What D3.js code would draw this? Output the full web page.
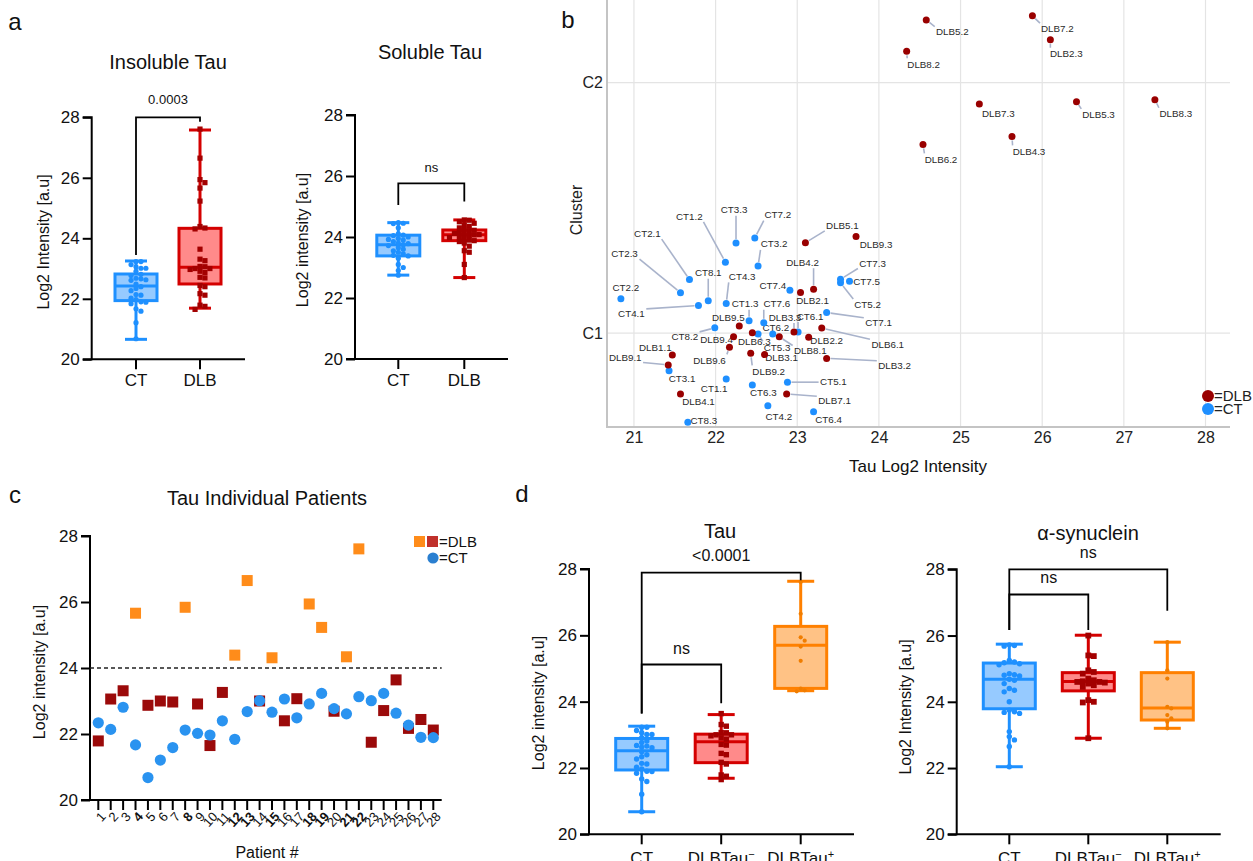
<!DOCTYPE html>
<html>
<head>
<meta charset="utf-8">
<script src="https://cdn.jsdelivr.net/npm/d3@7"></script>
<style>
  body { margin: 0; background: #fff; }
  svg { font-family: Arial, "Liberation Sans", Helvetica, sans-serif; }
</style>
</head>
<body>
<script>
// ---- data ----
// panel c: per patient insoluble tau (also used for a / d)
const patients = ["1","2","3","4","5","6","7","8","9","10","11","12","13","14","15","16","17","18","19","20","21","22","23","24","25","26","27","28"];
const patientCT  = [22.34,22.14,22.81,21.67,20.68,21.21,21.59,22.12,22.02,21.97,22.40,21.84,22.68,23.01,22.66,23.06,22.49,22.91,23.23,22.77,22.61,23.13,23.01,23.23,22.63,22.27,21.90,21.89];
const patientDLB = [21.79,23.06,23.31,25.66,22.87,23.00,22.97,25.84,22.91,21.65,23.26,24.39,26.65,23.00,24.31,22.40,23.07,25.94,25.23,22.69,24.34,27.61,21.75,22.71,23.64,22.17,22.44,22.12];
const tauCutoff = 24;

// panel a
const groupsA = ["CT", "DLB"];
const insolBoxCT  = [20.66, 21.94, 22.42, 22.82, 23.25];   // min, q1, median, q3, max
const insolBoxDLB = [21.69, 22.49, 23.04, 24.33, 27.58];
const solCT  = [24.47,24.45,24.44,24.30,24.10,24.06,24.05,24.00,23.95,23.92,23.90,23.85,23.80,23.78,23.75,23.72,23.65,23.60,23.55,23.50,23.45,23.40,23.38,23.30,23.10,23.00,22.90,22.75];
const solDLB = [24.56,24.55,24.50,24.45,24.40,24.35,24.30,24.25,24.22,24.20,24.15,24.12,24.10,24.08,24.07,24.05,24.00,23.98,23.95,23.90,23.88,23.85,23.80,23.70,23.55,23.50,23.10,22.67];
const solBoxCT  = [22.75, 23.38, 23.75, 24.06, 24.47];
const solBoxDLB = [22.67, 23.88, 24.07, 24.23, 24.56];

// panel d
const groupsD = ["CT", "DLBTau-", "DLBTau+"];
const tauBoxCT    = [20.68, 21.94, 22.52, 22.89, 23.26];
const tauBoxMinus = [21.69, 22.16, 22.79, 23.02, 23.61];
const tauBoxPlus  = [24.33, 24.40, 25.70, 26.27, 27.63];
const asynCT    = [25.72,25.70,25.68,25.25,25.20,25.18,25.15,25.12,24.85,24.82,24.80,24.78,24.68,24.65,24.55,24.40,24.35,24.30,24.00,23.75,23.70,23.68,23.65,23.10,22.95,22.85,22.65,22.04];
const asynMinus = [26.00,25.40,25.38,24.95,24.90,24.85,24.70,24.65,24.62,24.60,24.60,24.58,24.55,24.50,24.45,24.05,24.00,23.98,22.90];
const asynPlus  = [25.80,24.95,24.70,23.85,23.80,23.60,23.50,23.40,23.20];
const asynBoxCT    = [22.04, 23.79, 24.68, 25.17, 25.74];
const asynBoxMinus = [22.90, 24.33, 24.61, 24.88, 26.01];
const asynBoxPlus  = [23.20, 23.45, 23.81, 24.88, 25.80];

// panel b: tau intensity vs cluster (jittered)
const ctNames   = ["CT1.1","CT1.2","CT1.3","CT2.1","CT2.2","CT2.3","CT3.1","CT3.2","CT3.3","CT4.1","CT4.2","CT4.3","CT5.1","CT5.2","CT5.3","CT6.1","CT6.2","CT6.3","CT6.4","CT7.1","CT7.2","CT7.3","CT7.4","CT7.5","CT7.6","CT8.1","CT8.2","CT8.3"];
const ctTau     = [22.13,22.12,22.41,21.68,20.84,21.57,21.43,22.52,22.25,21.79,22.64,22.13,22.88,23.53,22.52,23.01,22.70,22.45,23.20,23.36,22.48,23.53,22.91,23.64,22.59,21.91,21.99,21.66];
const ctCluster = [0.817,1.283,1.049,1.214,1.137,1.161,0.850,1.268,1.360,1.110,0.710,1.118,0.804,1.201,0.996,1.004,0.996,0.793,0.686,1.082,1.380,1.215,1.171,1.207,1.041,1.129,1.021,0.644];
const dlbNames   = ["DLB1.1","DLB2.1","DLB2.2","DLB2.3","DLB3.1","DLB3.2","DLB3.3","DLB4.1","DLB4.2","DLB4.3","DLB5.1","DLB5.2","DLB5.3","DLB6.1","DLB6.2","DLB6.3","DLB7.1","DLB7.2","DLB7.3","DLB8.1","DLB8.2","DLB8.3","DLB9.1","DLB9.2","DLB9.3","DLB9.4","DLB9.5","DLB9.6"];
const dlbTau     = [21.47,23.04,23.14,26.10,22.60,23.36,22.96,21.57,23.20,25.63,23.10,24.58,26.42,23.30,24.54,22.45,22.87,25.88,25.23,22.78,24.34,27.38,21.42,22.43,23.72,22.22,22.29,22.17];
const dlbCluster = [0.912,1.162,0.983,2.171,0.914,0.899,1.004,0.757,1.175,1.785,1.361,2.250,1.924,1.020,1.753,1.001,0.757,2.267,1.915,0.985,2.125,1.932,0.873,0.919,1.386,0.985,1.028,0.943];
const bTicks = [21,22,23,24,25,26,27,28];
const bClusters = [["C1",1],["C2",2]];

// label placement (repel-style offsets in px)
const labelOff = {
  "CT2.2":[5,-11],"CT2.3":[-56,-39],"CT2.1":[-42,-46],"CT1.2":[-36,-46],"CT3.3":[-2,-33],"CT7.2":[23,-23],
  "CT3.2":[16,-22],"CT8.1":[0,-28],"CT4.1":[-67,8],"CT4.3":[16,-27],"CT1.3":[-4,-17],"CT7.6":[13,-19],
  "CT8.2":[-30,9],"CT5.3":[19,13],"CT6.2":[3,-7],"CT6.1":[12,-16],"CT7.4":[-17,-5],"CT7.3":[32,-16],
  "CT5.2":[27,22],"CT7.5":[17,0],"CT7.1":[52,10],"CT3.1":[13,8],"CT1.1":[-12,10],"CT6.3":[11,8],
  "CT5.1":[46,-1],"CT4.2":[11,11],"CT6.4":[15,8],"CT8.3":[16,-2],
  "DLB5.1":[37,-17],"DLB9.3":[20,8],"DLB4.2":[-11,-27],"DLB2.1":[12,8],"DLB9.5":[-11,-9],"DLB9.4":[-17,3],
  "DLB6.3":[2,9],"DLB3.3":[-9,-15],"DLB8.1":[31,14],"DLB2.2":[18,3],"DLB6.1":[66,16],"DLB3.2":[68,7],
  "DLB9.6":[-20,13],"DLB9.2":[18,18],"DLB3.1":[17,3],"DLB1.1":[-17,-8],"DLB9.1":[-43,-7],"DLB4.1":[18,8],
  "DLB7.1":[48,7],"DLB5.2":[26,12],"DLB7.2":[25,13],"DLB8.2":[17,13],"DLB2.3":[16,14],"DLB7.3":[19,10],
  "DLB5.3":[22,13],"DLB8.3":[21,14],"DLB4.3":[17,15],"DLB6.2":[18,15]
};

// ---- drawing ----
const W = 1253, H = 861;
const svg = d3.select("body").append("svg").attr("width", W).attr("height", H);

const BLUE = "#1e90ff", BLUE_FILL = "#96caff";
const RED = "#d40000", RED_FILL = "#ff8a8a", RED_PT = "#a30000";
const ORANGE = "#ff8000", ORANGE_FILL = "#ffc285", ORANGE_PT = "#f07d00";

function txt(g, x, y, s, size, anchor = "middle") {
  return g.append("text").attr("x", x).attr("y", y).attr("font-size", size)
    .attr("text-anchor", anchor).attr("dy", "0.35em").attr("fill", "#111").text(s);
}

// panel letters
txt(svg, 15, 22, "a", 24);
txt(svg, 568, 20, "b", 24);
txt(svg, 15, 495, "c", 24);
txt(svg, 522, 494, "d", 24);

// simple deterministic beeswarm
function swarm(vals, y, step, maxOff) {
  const pts = vals.map(v => ({ v, py: y(v) })).sort((a, b) => a.py - b.py);
  const done = [];
  pts.forEach(p => {
    let off = 0;
    for (let k = 0; k < 40; k++) {
      const c = k === 0 ? 0 : (k % 2 ? 1 : -1) * Math.ceil(k / 2) * step;
      if (Math.abs(c) > maxOff) break;
      if (!done.some(q => Math.abs(q.off - c) < step * 0.9 && Math.abs(q.py - p.py) < step * 0.9)) { off = c; break; }
    }
    p.off = off;
    done.push(p);
  });
  return pts;
}

function boxPanel(p) {
  const g = svg.append("g");
  const y = d3.scaleLinear().domain([20, 28]).range([p.y20, p.y28]);
  const x = d3.scalePoint().domain(p.cats).range([p.cx0, p.cx1]);

  txt(g, p.titleX, p.titleY, p.title, 20);

  const ya = g.append("g").attr("transform", `translate(${p.ax},0)`)
    .call(d3.axisLeft(y).tickValues([20, 22, 24, 26, 28]).tickSize(9).tickPadding(3));
  ya.select(".domain").attr("stroke-width", 2).attr("d", `M-9,${y(28)}H0V${y(20)}H-9`);
  ya.selectAll(".tick line").attr("stroke-width", 2);
  ya.selectAll(".tick text").attr("font-size", 17).attr("fill", "#111").attr("font-family", null);

  g.append("line").attr("x1", p.ax).attr("x2", p.axEnd).attr("y1", y(20)).attr("y2", y(20))
    .attr("stroke", "#000").attr("stroke-width", 2);
  g.selectAll(".xt").data(p.cats).join("line")
    .attr("x1", d => x(d)).attr("x2", d => x(d)).attr("y1", y(20)).attr("y2", y(20) + 10)
    .attr("stroke", "#000").attr("stroke-width", 2);
  g.selectAll(".xl").data(p.cats).join("text")
    .attr("x", d => x(d)).attr("y", y(20) + p.labPad).attr("text-anchor", "middle")
    .attr("font-size", 17).attr("fill", "#111").attr("dy", "0.71em")
    .each(function (d) {
      const t = d3.select(this);
      const sup = /[+-]$/.test(d) ? d.slice(-1) : null;
      t.append("tspan").text(sup ? d.slice(0, -1) : d);
      if (sup) t.append("tspan").attr("baseline-shift", "super").attr("font-size", 11).text(sup === "-" ? "\u2212" : "+");
    });

  g.append("text").attr("transform", `translate(${p.ylabX},${p.ylabY}) rotate(-90)`)
    .attr("text-anchor", "middle").attr("dy", "0.35em").attr("font-size", 16).attr("fill", "#111").text(p.ylab);

  p.cats.forEach((c, i) => {
    const [mn, q1, md, q3, mx] = p.boxes[i];
    const cx = x(c), bw = p.boxW, cw = p.capW;
    const col = p.stroke[i];
    g.append("line").attr("x1", cx).attr("x2", cx).attr("y1", y(mx)).attr("y2", y(q3)).attr("stroke", col).attr("stroke-width", 3);
    g.append("line").attr("x1", cx).attr("x2", cx).attr("y1", y(q1)).attr("y2", y(mn)).attr("stroke", col).attr("stroke-width", 3);
    [mn, mx].forEach(v => g.append("line").attr("x1", cx - cw / 2).attr("x2", cx + cw / 2).attr("y1", y(v)).attr("y2", y(v))
      .attr("stroke", col).attr("stroke-width", 3));
    g.append("rect").attr("x", cx - bw / 2).attr("y", y(q3)).attr("width", bw).attr("height", y(q1) - y(q3))
      .attr("fill", p.fill[i]).attr("stroke", col).attr("stroke-width", 3);
    g.append("line").attr("x1", cx - bw / 2).attr("x2", cx + bw / 2).attr("y1", y(md)).attr("y2", y(md))
      .attr("stroke", col).attr("stroke-width", 3);

    const sz = p.ptSize[i];
    const pts = swarm(p.points[i], y, sz * 1.9, bw / 2 - 3);
    if (p.shape[i] === "square") {
      g.selectAll(null).data(pts).join("rect")
        .attr("x", d => cx + d.off - sz).attr("y", d => d.py - sz).attr("width", sz * 2).attr("height", sz * 2)
        .attr("fill", p.ptColor[i]);
    } else {
      g.selectAll(null).data(pts).join("circle")
        .attr("cx", d => cx + d.off).attr("cy", d => d.py).attr("r", sz).attr("fill", p.ptColor[i]);
    }
  });

  (p.brackets || []).forEach(b => {
    g.append("path").attr("d", `M${x(b.a)},${y(b.legA)}V${y(b.top)}H${x(b.b)}V${y(b.legB)}`)
      .attr("fill", "none").attr("stroke", "#000").attr("stroke-width", 1.8);
    txt(g, (x(b.a) + x(b.b)) / 2, y(b.ly), b.label, b.size);
  });
}

// ---- panel a ----
const insolCT = patientCT;
const insolDLB = patientDLB;
boxPanel({
  cats: groupsA, y20: 359.3, y28: 117.3, cx0: 136, cx1: 200, ax: 91.7, axEnd: 245,
  title: "Insoluble Tau", titleX: 168, titleY: 62, ylab: "Log2 Intensity [a.u]", ylabX: 43, ylabY: 242, labPad: 15,
  boxes: [insolBoxCT, insolBoxDLB], points: [insolCT, insolDLB],
  stroke: [BLUE, RED], fill: [BLUE_FILL, RED_FILL], ptColor: [BLUE, RED_PT], shape: ["circle", "square"], ptSize: [2.6, 2.6],
  boxW: 42, capW: 22,
  brackets: [{ a: "CT", b: "DLB", top: 28, legA: 23.45, legB: 27.85, label: "0.0003", ly: 28.58, size: 13 }]
});
boxPanel({
  cats: groupsA, y20: 359, y28: 115, cx0: 398.3, cx1: 464.3, ax: 355, axEnd: 508,
  title: "Soluble Tau", titleX: 430, titleY: 52, ylab: "Log2 intensity [a.u]", ylabX: 302, ylabY: 240, labPad: 15,
  boxes: [solBoxCT, solBoxDLB], points: [solCT, solDLB],
  stroke: [BLUE, RED], fill: [BLUE_FILL, RED_FILL], ptColor: [BLUE, RED_PT], shape: ["circle", "square"], ptSize: [2.6, 2.6],
  boxW: 43, capW: 22,
  brackets: [{ a: "CT", b: "DLB", top: 25.76, legA: 25.05, legB: 25.16, label: "ns", ly: 26.28, size: 13 }]
});

// ---- panel d ----
const tauMinus = patientDLB.filter(v => v <= tauCutoff);
const tauPlus = patientDLB.filter(v => v > tauCutoff);
boxPanel({
  cats: groupsD, y20: 834.3, y28: 569, cx0: 641.7, cx1: 800.7, ax: 589, axEnd: 854,
  title: "Tau", titleX: 720, titleY: 531, ylab: "Log2 intensity [a.u]", ylabX: 538, ylabY: 703, labPad: 18,
  boxes: [tauBoxCT, tauBoxMinus, tauBoxPlus], points: [patientCT, tauMinus, tauPlus],
  stroke: [BLUE, RED, ORANGE], fill: [BLUE_FILL, RED_FILL, ORANGE_FILL], ptColor: [BLUE, RED_PT, ORANGE_PT],
  shape: ["circle", "square", "circle"], ptSize: [2.7, 2.7, 2.1], boxW: 52, capW: 27,
  brackets: [
    { a: "CT", b: "DLBTau+", top: 27.89, legA: 23.64, legB: 27.66, label: "<0.0001", ly: 28.42, size: 16 },
    { a: "CT", b: "DLBTau-", top: 25.12, legA: 23.64, legB: 23.95, label: "ns", ly: 25.62, size: 16 }
  ]
});
boxPanel({
  cats: groupsD, y20: 834.3, y28: 569.3, cx0: 1009.3, cx1: 1167.3, ax: 956.7, axEnd: 1220.7,
  title: "\u03b1-synuclein", titleX: 1088, titleY: 533, ylab: "Log2 Intensity [a.u]", ylabX: 905, ylabY: 707, labPad: 18,
  boxes: [asynBoxCT, asynBoxMinus, asynBoxPlus], points: [asynCT, asynMinus, asynPlus],
  stroke: [BLUE, RED, ORANGE], fill: [BLUE_FILL, RED_FILL, ORANGE_FILL], ptColor: [BLUE, RED_PT, ORANGE_PT],
  shape: ["circle", "square", "circle"], ptSize: [2.7, 2.9, 2.1], boxW: 52, capW: 27,
  brackets: [
    { a: "CT", b: "DLBTau+", top: 28, legA: 26.17, legB: 26.75, label: "ns", ly: 28.52, size: 16 },
    { a: "CT", b: "DLBTau-", top: 27.24, legA: 26.17, legB: 26.17, label: "ns", ly: 27.76, size: 16 }
  ]
});

// ---- panel c ----
(function () {
  const g = svg.append("g");
  const y = d3.scaleLinear().domain([20, 28]).range([800, 536]);
  const x = d3.scalePoint().domain(patients).range([98.3, 433.3]);
  const x0 = 90, x1 = 441.7;

  txt(g, 267, 498, "Tau Individual Patients", 20);

  const ya = g.append("g").attr("transform", `translate(${x0},0)`)
    .call(d3.axisLeft(y).tickValues([20, 22, 24, 26, 28]).tickSize(9).tickPadding(3));
  ya.select(".domain").attr("stroke-width", 2).attr("d", `M-9,${y(28)}H0V${y(20)}H-9`);
  ya.selectAll(".tick line").attr("stroke-width", 2);
  ya.selectAll(".tick text").attr("font-size", 17).attr("fill", "#111").attr("font-family", null);

  g.append("line").attr("x1", x0).attr("x2", x1).attr("y1", y(20)).attr("y2", y(20)).attr("stroke", "#000").attr("stroke-width", 2);
  g.selectAll(".pt").data(patients).join("line")
    .attr("x1", d => x(d)).attr("x2", d => x(d)).attr("y1", y(20)).attr("y2", y(20) + 10)
    .attr("stroke", "#000").attr("stroke-width", 2);
  g.selectAll(".pl").data(patients).join("text")
    .attr("transform", d => `translate(${x(d) + 5},${y(20) + 14}) rotate(-48)`)
    .attr("text-anchor", "end").attr("dy", "0.35em").attr("font-size", 13).attr("fill", "#111")
    .attr("font-weight", (d, i) => patientDLB[i] > tauCutoff ? "bold" : null)
    .text(d => d);

  g.append("line").attr("x1", x0).attr("x2", x1).attr("y1", y(tauCutoff)).attr("y2", y(tauCutoff))
    .attr("stroke", "#222").attr("stroke-width", 1.6).attr("stroke-dasharray", "4,3");

  g.append("text").attr("transform", `translate(39,672) rotate(-90)`).attr("text-anchor", "middle")
    .attr("dy", "0.35em").attr("font-size", 16).attr("fill", "#111").text("Log2 intensity [a.u]");
  txt(g, 267, 852, "Patient #", 16);

  const s = 11;
  g.selectAll(".sq").data(patientDLB).join("rect")
    .attr("x", (d, i) => x(patients[i]) - s / 2).attr("y", d => y(d) - s / 2)
    .attr("width", s).attr("height", s)
    .attr("fill", d => d > tauCutoff ? "#ff8c1a" : "#9b0a0a");
  g.selectAll(".ci").data(patientCT).join("circle")
    .attr("cx", (d, i) => x(patients[i])).attr("cy", d => y(d)).attr("r", 5.6).attr("fill", "#2a93f0");

  // legend
  g.append("rect").attr("x", 414).attr("y", 536).attr("width", 11).attr("height", 11).attr("fill", "#ff8c1a");
  g.append("rect").attr("x", 427).attr("y", 536).attr("width", 11).attr("height", 11).attr("fill", "#c0302b");
  txt(g, 439, 542, "=DLB", 15, "start");
  g.append("circle").attr("cx", 433).attr("cy", 558).attr("r", 5.6).attr("fill", "#2a7fd0");
  txt(g, 439, 558, "=CT", 15, "start");
})();

// ---- panel b ----
(function () {
  const g = svg.append("g");
  const x = d3.scaleLinear().domain([20.67, 28.3]).range([607, 1230]);
  const y = d3.scaleLinear().domain([0.625, 2.33]).range([427, 0]);

  g.selectAll(".gx").data(bTicks).join("line")
    .attr("x1", d => x(d)).attr("x2", d => x(d)).attr("y1", 0).attr("y2", 427)
    .attr("stroke", "#e4e4e4").attr("stroke-width", 1.2);
  g.selectAll(".gy").data(bClusters).join("line")
    .attr("x1", 607).attr("x2", 1230).attr("y1", d => y(d[1])).attr("y2", d => y(d[1]))
    .attr("stroke", "#e4e4e4").attr("stroke-width", 1.2);
  g.append("path").attr("d", "M607,0V427H1230").attr("fill", "none").attr("stroke", "#c4c4c4").attr("stroke-width", 2);

  const xa = g.append("g").attr("transform", "translate(0,427)")
    .call(d3.axisBottom(x).tickValues(bTicks).tickSize(0).tickPadding(5).tickFormat(d3.format("d")));
  xa.select(".domain").remove();
  xa.selectAll(".tick text").attr("font-size", 16).attr("fill", "#222").attr("font-family", null);
  g.selectAll(".yl").data(bClusters).join("text")
    .attr("x", 603).attr("y", d => y(d[1])).attr("text-anchor", "end").attr("dy", "0.35em")
    .attr("font-size", 16).attr("fill", "#222").text(d => d[0]);

  g.append("text").attr("transform", "translate(576,210) rotate(-90)").attr("text-anchor", "middle")
    .attr("dy", "0.35em").attr("font-size", 16).attr("fill", "#222").text("Cluster");
  txt(g, 918, 466, "Tau Log2 Intensity", 17);

  const pts = ctNames.map((n, i) => ({ n, tau: ctTau[i], cl: ctCluster[i], col: "#1e8fff" }))
    .concat(dlbNames.map((n, i) => ({ n, tau: dlbTau[i], cl: dlbCluster[i], col: "#990000" })));
  pts.forEach(d => { d.px = x(d.tau); d.py = y(d.cl); });

  const segG = g.append("g");
  const labG = g.append("g");
  pts.forEach(d => {
    const o = labelOff[d.n] || [12, 8];
    const t = labG.append("text").attr("x", d.px + o[0]).attr("y", d.py + o[1])
      .attr("text-anchor", "middle").attr("dy", "0.35em").attr("font-size", 9.8).attr("fill", "#2a2a2a").text(d.n);
    const bb = t.node().getBBox();
    const nx = Math.max(bb.x, Math.min(d.px, bb.x + bb.width));
    const ny = Math.max(bb.y + 1, Math.min(d.py, bb.y + bb.height - 1));
    const dist = Math.hypot(nx - d.px, ny - d.py);
    if (dist > 7) {
      const ux = (nx - d.px) / dist, uy = (ny - d.py) / dist;
      segG.append("line").attr("x1", d.px + ux * 4).attr("y1", d.py + uy * 4).attr("x2", nx - ux * 1.5).attr("y2", ny - uy * 1.5)
        .attr("stroke", "#a9b3cb").attr("stroke-width", 1.6);
    }
  });
  g.selectAll(".dot").data(pts).join("circle")
    .attr("cx", d => d.px).attr("cy", d => d.py).attr("r", 3.5).attr("fill", d => d.col);

  // legend
  g.append("circle").attr("cx", 1208).attr("cy", 396).attr("r", 6).attr("fill", "#990000");
  txt(g, 1214, 396, "=DLB", 15, "start").attr("fill", "#222");
  g.append("circle").attr("cx", 1208).attr("cy", 409).attr("r", 6).attr("fill", "#1e8fff");
  txt(g, 1214, 409, "=CT", 15, "start").attr("fill", "#222");
})();
</script>
</body>
</html>
